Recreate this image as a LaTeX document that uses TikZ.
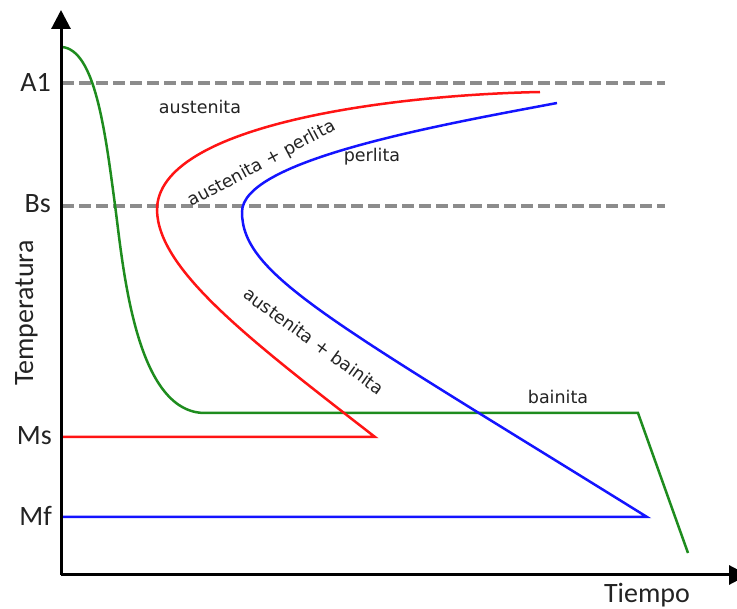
\documentclass[tikz,border=0pt]{standalone}
\usepackage{fontspec}
\setmainfont{DejaVu Sans}
\newfontfamily\axisfont{Carlito}
\usetikzlibrary{arrows.meta}
\definecolor{cgreen}{RGB}{30,140,30}
\definecolor{cred}{RGB}{255,20,20}
\definecolor{cblue}{RGB}{20,20,255}
\definecolor{cdash}{RGB}{140,140,140}
\definecolor{ctext}{RGB}{35,35,35}
\tikzset{
  axisline/.style={line width=3pt, black, -{Triangle[width=19pt,length=19pt]}},
  levelline/.style={line width=3.5pt, cdash, dash pattern=on 12pt off 5pt},
  curve/.style={line width=2.5pt, line join=miter},
  axislabel/.style={font=\axisfont\fontsize{28}{30}\selectfont, text=ctext, inner sep=0pt},
  regionlabel/.style={font=\fontsize{17.5}{20}\selectfont, text=ctext, inner sep=0pt}
}
\begin{document}
\begin{tikzpicture}[x=1pt,y=-1pt]
\useasboundingbox (0,0) rectangle (737,609);
% axes
\coordinate (O) at (61,575);
\coordinate (ytip) at (61,10);
\coordinate (xtip) at (748,575);
% level lines
\coordinate (a1s) at (62,83); \coordinate (a1e) at (665,83);
\coordinate (bss) at (62,206); \coordinate (bse) at (665,206);
\draw[levelline] (a1s) -- (a1e);
\draw[levelline] (bss) -- (bse);
% green cooling curve
\coordinate (g0) at (62,47); \coordinate (gm) at (115,205);
\coordinate (g1) at (205,413); \coordinate (g2) at (638,413); \coordinate (g3) at (688,553);
\draw[curve, cgreen] (g0) .. controls (95,50) and (105,130) .. (gm)
  .. controls (123,265) and (135,413) .. (g1) -- (g2) -- (g3);
% red curve
\coordinate (r0) at (540,92); \coordinate (rn) at (157,210);
\coordinate (r1) at (375,437); \coordinate (ms) at (61,437);
\draw[curve, cred] (r0) .. controls (390,95) and (157,125) .. (rn)
  .. controls (158,270) and (250,340) .. (r1) -- (ms);
% blue curve
\coordinate (b0) at (557,103); \coordinate (bn) at (242,212);
\coordinate (b1) at (647,517); \coordinate (mf) at (61,517);
\draw[curve, cblue] (b0) .. controls (440,125) and (242,160) .. (bn)
  .. controls (242,275) and (330,320) .. (b1) -- (mf);
% axes on top
\draw[axisline] (O) -- (ytip);
\draw[axisline] (O) -- (xtip);
% axis labels
\node[axislabel, anchor=east] (lA1) at (51,82) {A1};
\node[axislabel, anchor=east] (lBs) at (51,204) {Bs};
\node[axislabel, anchor=east] (lMs) at (52,436) {Ms};
\node[axislabel, anchor=east] (lMf) at (52,516) {Mf};
\node[axislabel, rotate=90, anchor=base] (lT) at (33,313) {Temperatura};
\node[axislabel, anchor=base] (lt) at (647,602) {Tiempo};
% region labels
\node[regionlabel] (raus) at (200,107) {austenita};
\node[regionlabel, rotate=28] (rap) at (262,164) {austenita + perlita};
\node[regionlabel] (rper) at (372,157) {perlita};
\node[regionlabel, rotate=-36] (rab) at (314,341) {austenita + bainita};
\node[regionlabel] (rbai) at (558,397) {bainita};
\end{tikzpicture}
\end{document}
